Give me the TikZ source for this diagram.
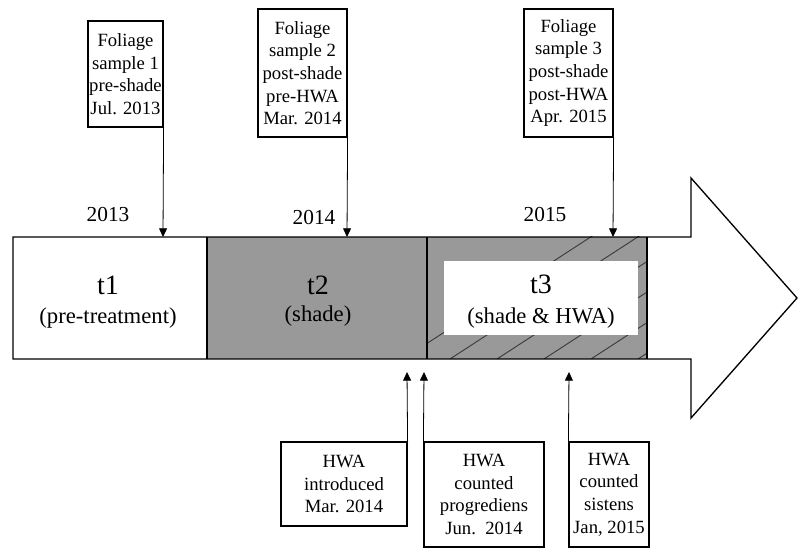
\documentclass[tikz,border=0pt]{standalone}
\usepackage{fontspec}
\setmainfont{Liberation Serif}
\usepackage{tikz}
\usetikzlibrary{arrows.meta}
\definecolor{shadegray}{RGB}{153,153,153}
\definecolor{hatchgray}{RGB}{60,60,60}
\tikzset{
  notebox/.style={draw, line width=0.9pt, align=center, inner sep=0pt, font=\fontsize{14}{17}\selectfont},
  pointer/.style={-{Triangle[length=6.5pt,width=6pt]}, line width=0.6pt},
  yearlabel/.style={font=\fontsize{16}{19}\selectfont, inner sep=0.75pt},
  phaselabel/.style={font=\fontsize{21}{24}\selectfont, inner sep=0.75pt},
  phasenote/.style={font=\fontsize{17}{20}\selectfont, inner sep=0.75pt}
}

\begin{document}
\begin{tikzpicture}[x=0.75pt,y=0.75pt,yscale=-1,xscale=1]
\useasboundingbox (0,0) rectangle (799,548);

%Shape: Rectangle (shade)
\fill[shadegray] (207,237) rectangle (647,359) ;
%Hatch (shade & HWA)
\begin{scope}
\clip (427,237) rectangle (647,359) ;
\foreach \x in {403,450,...,780} \draw[hatchgray, line width=0.7pt] (\x,359) -- ++(200,-130) ;
\end{scope}
%Shape: Rectangle (white inner)
\fill[white] (444,261) rectangle (638,335) ;

%Shape: Right Arrow
\draw[line width=1pt] (13,237) -- (691,237) -- (691,178) -- (797,298) -- (691,418) -- (691,359) -- (13,359) -- cycle ;
%Straight Lines
\draw[line width=0.8pt] (207,237) -- (207,359) ;
\draw[line width=2.2pt] (427,237) -- (427,359) ;
\draw[line width=0.8pt] (647,237) -- (647,359) ;

% marks on the timeline
\coordinate (s1) at (163,237) ;
\coordinate (s2) at (347,237) ;
\coordinate (s3) at (613,237) ;
\coordinate (b1) at (407,372) ;
\coordinate (b2) at (424,372) ;
\coordinate (b3) at (569,372) ;

% Text Node
\node[yearlabel] (y13) at (108,215) {2013};
\node[yearlabel] (y14) at (314,218) {2014};
\node[yearlabel] (y15) at (545,215) {2015};
% Text Node
\node[phaselabel] (t1) at (108,285) {t1};
\node[phasenote] (t1n) at (108,318) {(pre-treatment)};
\node[phaselabel] (t2) at (318,285) {t2};
\node[phasenote] (t2n) at (318,316) {(shade)};
\node[phaselabel] (t3) at (541,284) {t3};
\node[phasenote] (t3n) at (541,318) {(shade \& HWA)};

% Foliage samples
\node[notebox, minimum width=56.25pt, minimum height=79.5pt] (fs1) at (125.5,74) {Foliage\\sample 1\\pre-shade\\Jul. 2013};
\node[notebox, minimum width=66.75pt, minimum height=96pt] (fs2) at (302.5,73) {Foliage\\sample 2\\post-shade\\pre-HWA\\Mar. 2014};
\node[notebox, minimum width=66.75pt, minimum height=96pt] (fs3) at (568.5,73) {Foliage\\sample 3\\post-shade\\post-HWA\\Apr. 2015};

% HWA events
\node[notebox, minimum width=94.5pt, minimum height=63pt] (hi) at (344,484) {HWA\\introduced\\Mar. 2014};
\node[notebox, minimum width=90pt, minimum height=78.75pt] (hp) at (484,494.5) {HWA\\counted\\progrediens\\Jun.\ \ 2014};
\node[notebox, minimum width=60pt, minimum height=78.75pt] (hs) at (609,494.5) {HWA\\counted\\sistens\\Jan, 2015};

%Straight Lines
\draw[pointer] (fs1.south east) -- (s1) ;
\draw[pointer] (fs2.south east) -- (s2) ;
\draw[pointer] (fs3.south east) -- (s3) ;
\draw[pointer] (hi.north east) -- (b1) ;
\draw[pointer] (hp.north west) -- (b2) ;
\draw[pointer] (hs.north west) -- (b3) ;

\end{tikzpicture}
\end{document}
